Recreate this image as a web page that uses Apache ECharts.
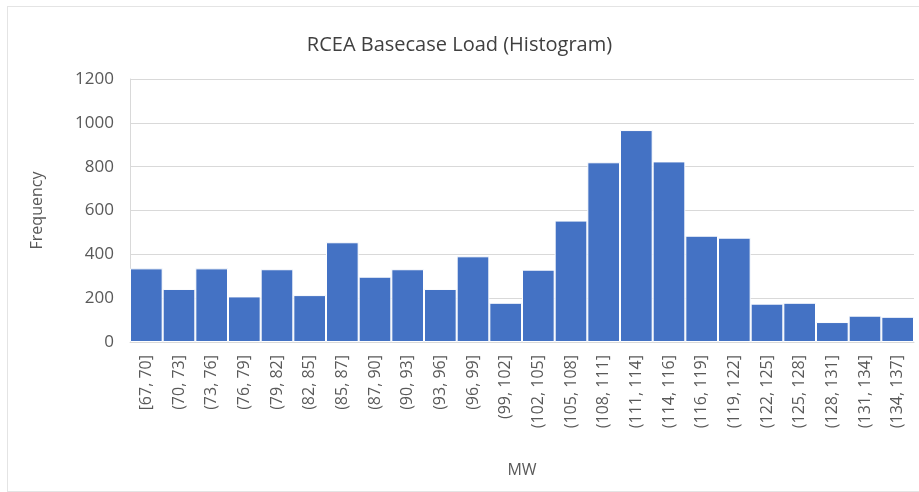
<!DOCTYPE html>
<html>
<head>
<meta charset="utf-8">
<script src="https://cdn.jsdelivr.net/npm/echarts@6/dist/echarts.min.js"></script>
<style>
  html, body { margin: 0; padding: 0; background: #fff; }
  #frame { position: absolute; left: 7px; top: 6px; width: 930px; height: 484px; border: 1px solid #e4e4e4; }
  #chart { position: absolute; left: 0; top: 0; width: 919px; height: 492px; }
</style>
</head>
<body>
<div id="frame"></div>
<div id="chart"></div>
<script>
// bins (MW) and their counts
var bins = ['[67, 70]', '(70, 73]', '(73, 76]', '(76, 79]', '(79, 82]', '(82, 85]',
  '(85, 87]', '(87, 90]', '(90, 93]', '(93, 96]', '(96, 99]', '(99, 102]',
  '(102, 105]', '(105, 108]', '(108, 111]', '(111, 114]', '(114, 116]', '(116, 119]',
  '(119, 122]', '(122, 125]', '(125, 128]', '(128, 131]', '(131, 134]', '(134, 137]'];
var counts = [336, 242, 336, 208, 332, 214, 455, 298, 332, 242, 391, 179,
  330, 554, 820, 967, 824, 485, 476, 175, 179, 91, 120, 115];

var font = 'Open Sans';
var chartDom = document.getElementById('chart');
var myChart = echarts.init(chartDom);
var option;

option = {
    animation: false,
    title: {
        text: 'RCEA Basecase Load (Histogram)',
        left: 'center',
        top: 30,
        textStyle: { fontFamily: font, fontSize: 20, fontWeight: 'normal', color: '#404040' }
    },
    grid: { left: 130, right: 5, top: 79, bottom: 150 },
    xAxis: {
        type: 'category',
        data: bins,
        name: 'MW',
        nameLocation: 'middle',
        nameGap: 120,
        nameTextStyle: { fontFamily: font, fontSize: 16, color: '#595959' },
        axisTick: { show: false },
        axisLine: { lineStyle: { color: '#d9d9d9' } },
        axisLabel: { rotate: 90, interval: 0, margin: 13, fontFamily: font, fontSize: 16, color: '#595959' }
    },
    yAxis: {
        type: 'value',
        min: 0,
        max: 1200,
        interval: 200,
        name: 'Frequency',
        nameLocation: 'middle',
        nameGap: 85,
        nameTextStyle: { fontFamily: font, fontSize: 16, color: '#595959' },
        axisLine: { show: true, lineStyle: { color: '#d9d9d9' } },
        axisLabel: {
            margin: 16, fontFamily: font, fontSize: 17, color: '#595959',
            formatter: function (v) { return String(v); }
        },
        splitLine: { lineStyle: { color: '#d9d9d9' } }
    },
    series: [
        {
            type: 'bar',
            data: counts,
            barCategoryGap: '0%',
            itemStyle: { color: '#4472C4', borderColor: '#ffffff', borderWidth: 1 }
        }
    ]
};

option && myChart.setOption(option);
</script>
</body>
</html>
